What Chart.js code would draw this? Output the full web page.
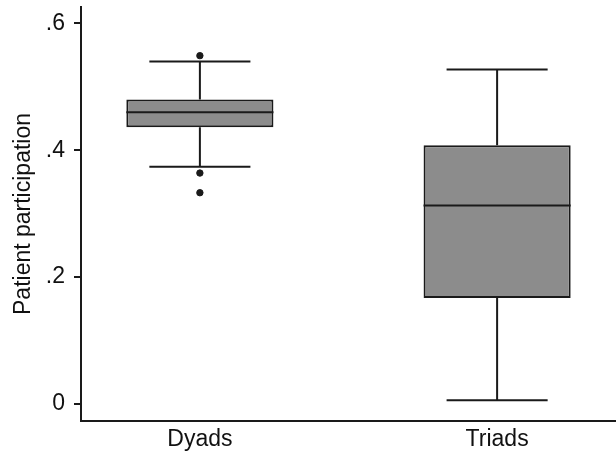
<!DOCTYPE html>
<html>
<head>
<meta charset="utf-8">
<script src="https://cdn.jsdelivr.net/npm/chart.js@4"></script>
<style>
body { margin: 0; background: #fff; }
</style>
</head>
<body>
<canvas id="myChart" width="616" height="451"></canvas>
<script>
var categories = ['Dyads', 'Triads'];
var whiskerLow = [0.374, 0.006];
var q1 = [0.436, 0.167];
var median = [0.460, 0.313];
var q3 = [0.480, 0.408];
var whiskerHigh = [0.540, 0.527];
var outlierGroup = [0, 0, 0];
var outlierValues = [0.549, 0.364, 0.333];
var yTicks = [0, 0.2, 0.4, 0.6];
var yTickLabels = ['0', '.2', '.4', '.6'];

var boxPct = 0.495;          // box width as share of category spacing
var boxHalf = boxPct / 2;
var capHalf = 0.17;
var ink = '#1a1a1a';

function xPos(i){ return i + 1; }

// turn [x1,y1,x2,y2] pieces into one line with gaps between them
function segments(list){
  var pts = [];
  list.forEach(function(s){
    pts.push({x: s[0], y: s[1]}, {x: s[2], y: s[3]}, {x: s[2], y: null});
  });
  return pts;
}

var boxData = [], whiskerSegs = [], capSegs = [], medianSegs = [], outlierData = [];
for (var i = 0; i < categories.length; i++) {
  var x = xPos(i);
  boxData.push({x: x, y: [q1[i], q3[i]]});
  whiskerSegs.push([x, q3[i], x, whiskerHigh[i]], [x, q1[i], x, whiskerLow[i]]);
  capSegs.push([x - capHalf, whiskerHigh[i], x + capHalf, whiskerHigh[i]]);
  capSegs.push([x - capHalf, whiskerLow[i], x + capHalf, whiskerLow[i]]);
  medianSegs.push([x - boxHalf, median[i], x + boxHalf, median[i]]);
}
for (var j = 0; j < outlierValues.length; j++) {
  outlierData.push({x: xPos(outlierGroup[j]), y: outlierValues[j]});
}

function lineSet(pts, order){
  return {
    type: 'line',
    data: segments(pts),
    borderColor: ink,
    borderWidth: 2,
    pointRadius: 0,
    fill: false,
    spanGaps: false,
    order: order
  };
}

Chart.defaults.font.family = "'Liberation Sans', Arial, sans-serif";
Chart.defaults.font.size = 23;
Chart.defaults.color = '#111';

var ctx = document.getElementById('myChart').getContext('2d');
var myChart = new Chart(ctx, {
  type: 'bar',
  data: {
    datasets: [
      {
        type: 'scatter',
        data: outlierData,
        backgroundColor: ink,
        borderColor: ink,
        pointRadius: 3.2,
        order: 0
      },
      lineSet(medianSegs, 1),
      {
        type: 'bar',
        data: boxData,
        backgroundColor: '#8c8c8c',
        borderColor: ink,
        borderWidth: 2,
        borderSkipped: false,
        barPercentage: boxPct,
        categoryPercentage: 1,
        order: 2
      },
      lineSet(whiskerSegs, 3),
      lineSet(capSegs, 4)
    ]
  },
  options: {
    responsive: false,
    animation: false,
    // no auto padding, otherwise the point hover size eats 5px on the right
    layout: { autoPadding: false, padding: { top: 7, left: 0, right: 0, bottom: 0 } },
    plugins: {
      legend: { display: false },
      tooltip: { enabled: false }
    },
    scales: {
      x: {
        type: 'linear',
        offset: false,
        min: 0.6,
        max: 2.4,
        grid: { display: false, drawTicks: false, offset: false },
        border: { display: true, color: ink, width: 2 },
        ticks: {
          padding: 5,
          color: '#111',
          callback: function(v){ return categories[v - 1]; }
        },
        afterBuildTicks: function(scale){
          scale.ticks = categories.map(function(c, i){ return {value: xPos(i)}; });
        },
        afterFit: function(scale){
          scale.height = 30;
          scale.paddingLeft = 0;
          scale.paddingRight = 0;
        }
      },
      y: {
        type: 'linear',
        min: -0.0268,
        max: 0.6257,
        grid: {
          drawOnChartArea: false,
          drawTicks: true,
          tickLength: 7,
          color: ink,
          lineWidth: 2
        },
        border: { display: true, color: ink, width: 2 },
        ticks: {
          padding: 9,
          color: '#111',
          callback: function(v){
            var k = yTicks.indexOf(v);
            return k >= 0 ? yTickLabels[k] : '';
          }
        },
        afterBuildTicks: function(scale){
          scale.ticks = yTicks.map(function(v){ return {value: v}; });
        },
        afterFit: function(scale){
          scale.width = 81;
          scale.paddingTop = 0;
          scale.paddingBottom = 0;
        },
        title: {
          display: true,
          text: 'Patient participation',
          color: '#111',
          padding: { top: 10, bottom: 0 }
        }
      }
    }
  }
});
</script>
</body>
</html>
